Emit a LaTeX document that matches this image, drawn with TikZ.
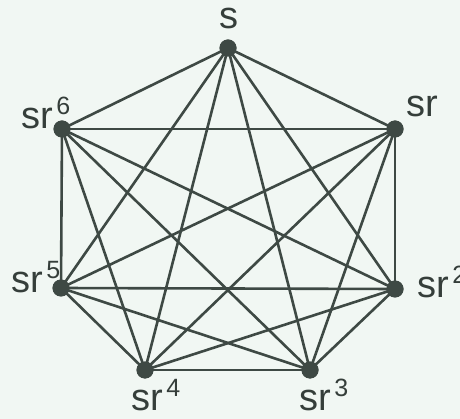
\documentclass[tikz,border=0pt]{standalone}
\usepackage{fontspec}
\setmainfont{Liberation Sans}
\definecolor{edgec}{HTML}{3E4944}
\definecolor{bgc}{HTML}{F1F7F3}
\newcommand{\lbl}[2]{sr\hspace{3.5pt}\raisebox{14pt}{\fontsize{25}{25}\selectfont #2}}
\begin{document}
\begin{tikzpicture}[x=1pt,y=-1pt,
  vtx/.style={circle,fill=edgec,inner sep=0pt,minimum size=17pt},
  edge/.style={draw=edgec,line width=2.6pt},
  lab/.style={inner sep=0pt,text=edgec!85!black,font=\fontsize{38}{38}\selectfont}]
\fill[bgc] (0,0) rectangle (460,419);
\useasboundingbox (0,0) rectangle (460,419);
\node[vtx] (v0) at (228,48) {};
\node[vtx] (v1) at (395,129) {};
\node[vtx] (v2) at (395,289) {};
\node[vtx] (v3) at (310,370) {};
\node[vtx] (v4) at (145,370) {};
\node[vtx] (v5) at (61,288) {};
\node[vtx] (v6) at (62,129) {};
\foreach \a/\b in {0/1,0/2,0/3,0/4,0/5,0/6,1/2,1/3,1/4,1/5,1/6,2/3,2/4,2/5,2/6,3/4,3/5,3/6,4/5,4/6,5/6}
  \draw[edge] (v\a.center) -- (v\b.center);
\foreach \i in {0,...,6}
  \node[vtx] at (v\i) {};
\node[lab,anchor=base] (l0) at (229,29) {s};
\node[lab,anchor=base west] (l1) at (406,117) {sr};
\node[lab,anchor=base west] (l2) at (417,298) {\lbl{}{2}};
\node[lab,anchor=base west] (l3) at (299,410) {\lbl{}{3}};
\node[lab,anchor=base west] (l4) at (131,410) {\lbl{}{4}};
\node[lab,anchor=base west] (l5) at (11,293) {\lbl{}{5}};
\node[lab,anchor=base west] (l6) at (21,129) {\lbl{}{6}};
\end{tikzpicture}
\end{document}
